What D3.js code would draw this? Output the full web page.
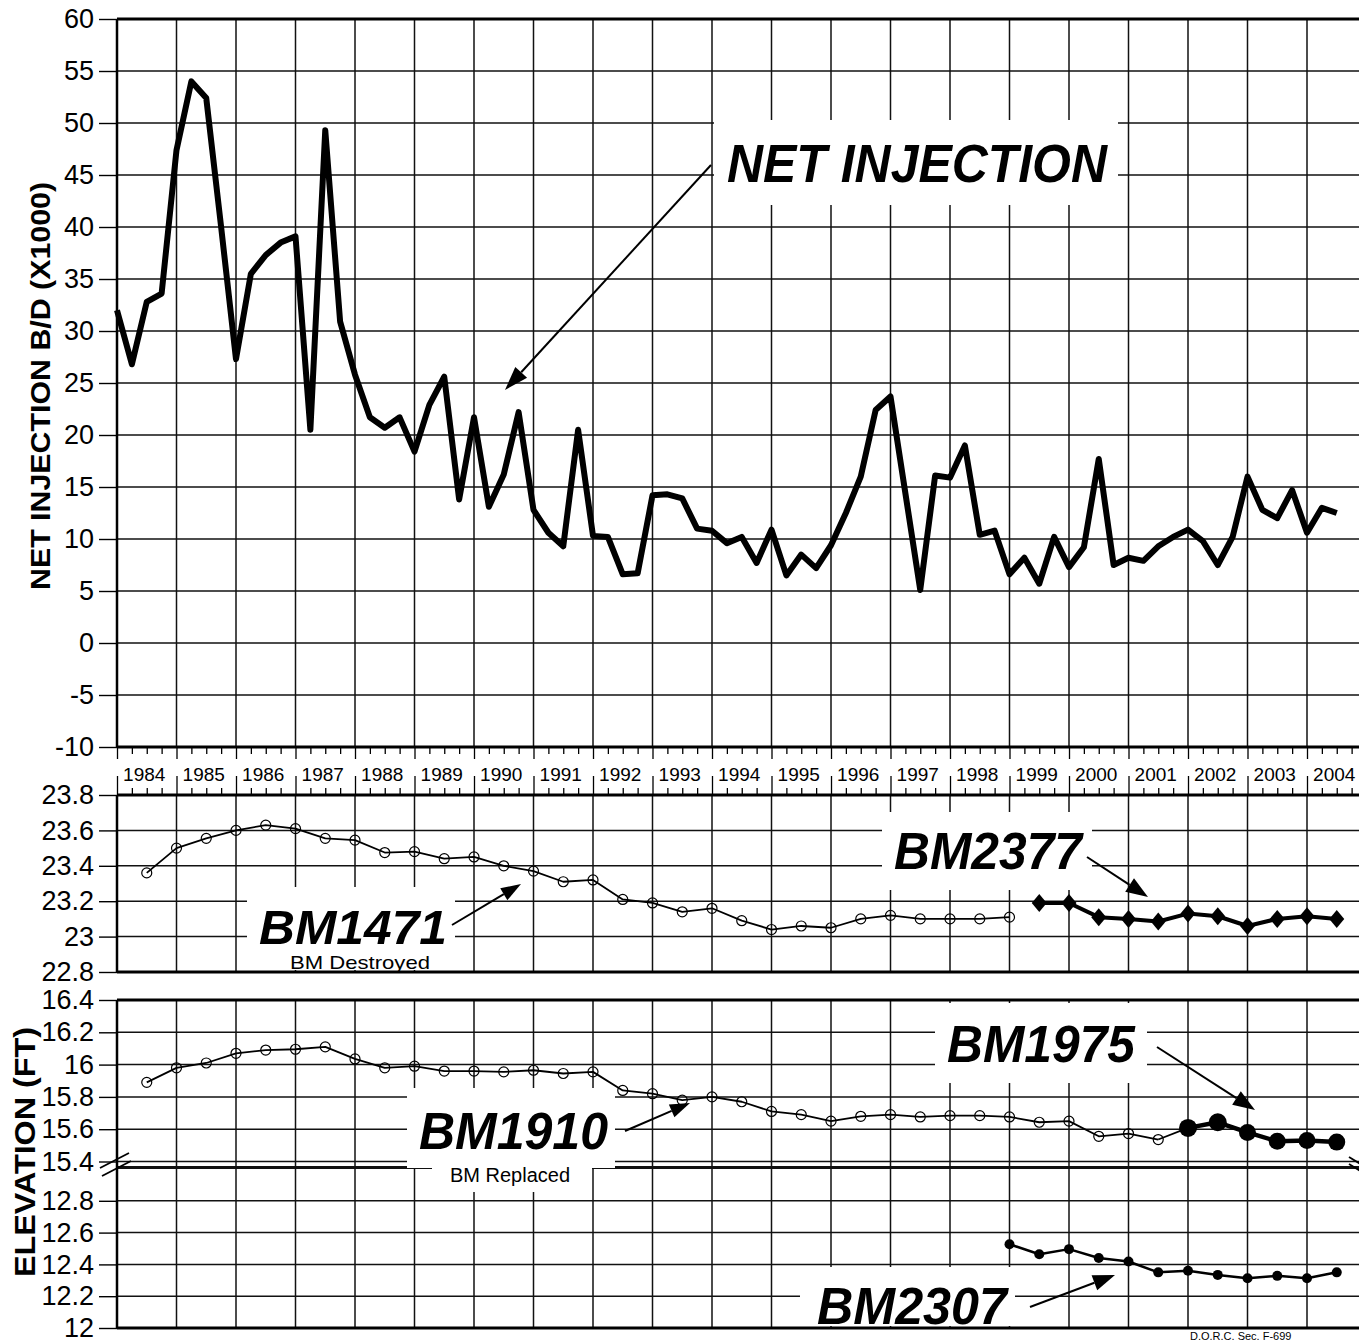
<!DOCTYPE html>
<html><head><meta charset="utf-8">
<script src="https://cdn.jsdelivr.net/npm/d3@7"></script>
<style>
body{margin:0;background:#fff}
svg{display:block}
text{font-family:"Liberation Sans",Arial,Helvetica,sans-serif;fill:#000}
</style>
</head><body>
<svg id="c" width="1359" height="1342"></svg>
<script>
// ---------------- DATA ----------------
const yearLabels = ["1984","1985","1986","1987","1988","1989","1990","1991","1992","1993","1994",
  "1995","1996","1997","1998","1999","2000","2001","2002","2003","2004"];
// Net injection, quarterly from 1984 Q1 (B/D x1000)
const netInjection = [32.0,26.8,32.8,33.6,47.4,54.0,52.4,40.0,27.3,35.5,37.3,38.5,39.1,20.5,49.3,30.9,
  25.8,21.7,20.7,21.7,18.4,22.9,25.6,13.8,21.7,13.1,16.2,22.2,12.8,10.6,9.3,20.5,
  10.3,10.2,6.6,6.7,14.2,14.3,13.9,11.0,10.8,9.6,10.2,7.7,10.9,6.5,8.5,7.2,
  9.4,12.5,16.0,22.4,23.7,14.4,5.1,16.1,15.9,19.0,10.4,10.8,6.6,8.2,5.7,10.2,
  7.3,9.2,17.7,7.5,8.2,7.9,9.3,10.2,10.9,9.8,7.5,10.2,16.0,12.8,12.0,14.7,10.6,13.0,12.5];
const netTicks = [-10,-5,0,5,10,15,20,25,30,35,40,45,50,55,60];

const bm1471Dates = [1984.5,1985,1985.5,1986,1986.5,1987,1987.5,1988,1988.5,1989,1989.5,1990,1990.5,1991,1991.5,
  1992,1992.5,1993,1993.5,1994,1994.5,1995,1995.5,1996,1996.5,1997,1997.5,1998,1998.5,1999];
const bm1471 = [23.36,23.50,23.555,23.60,23.63,23.61,23.555,23.545,23.475,23.48,23.44,23.45,23.40,23.37,23.31,
  23.32,23.21,23.19,23.14,23.16,23.09,23.04,23.06,23.05,23.10,23.12,23.10,23.10,23.10,23.11];
const bm2377Dates = [1999.5,2000,2000.5,2001,2001.5,2002,2002.5,2003,2003.5,2004,2004.5];
const bm2377 = [23.19,23.19,23.11,23.10,23.085,23.13,23.115,23.06,23.10,23.115,23.10];
const midTicks = [22.8,23,23.2,23.4,23.6,23.8];

const bm1910Dates = [1984.5,1985,1985.5,1986,1986.5,1987,1987.5,1988,1988.5,1989,1989.5,1990,1990.5,1991,1991.5,
  1992,1992.5,1993,1993.5,1994,1994.5,1995,1995.5,1996,1996.5,1997,1997.5,1998,1998.5,1999,1999.5,2000,2000.5,2001,2001.5];
const bm1910 = [15.89,15.98,16.01,16.07,16.09,16.095,16.11,16.035,15.98,15.99,15.96,15.96,15.955,15.965,15.945,
  15.955,15.84,15.82,15.78,15.80,15.77,15.71,15.69,15.65,15.68,15.69,15.676,15.684,15.684,15.676,15.643,15.65,15.556,15.573,15.536];
const bm1975Dates = [2002,2002.5,2003,2003.5,2004,2004.5];
const bm1975 = [15.608,15.643,15.58,15.525,15.53,15.52];
const upperTicks = [15.4,15.6,15.8,16,16.2,16.4];

const bm2307Dates = [1999,1999.5,2000,2000.5,2001,2001.5,2002,2002.5,2003,2003.5,2004,2004.5];
const bm2307 = [12.527,12.464,12.496,12.44,12.418,12.35,12.36,12.334,12.313,12.328,12.313,12.35];
const lowerTicks = [12,12.2,12.4,12.6,12.8];

// ---------------- LAYOUT ----------------
const svg = d3.select("#c");
const X0 = 117, XR = 1359;
const x = d3.scaleLinear().domain([1984, 2005]).range([117, 1366.5]);
const yTop = d3.scaleLinear().domain([-10, 60]).range([747, 19]);
const yMid = d3.scaleLinear().domain([22.8, 23.8]).range([972, 795]);
const yUp = d3.scaleLinear().domain([15.4, 16.4]).range([1161.5, 1000]);
const yLow = d3.scaleLinear().domain([12, 13]).range([1328, 1169]);

const gGrid = svg.append("g").attr("stroke", "#111").attr("stroke-width", 1.5);
const boundaries = d3.range(1985, 2005);
function vgrid(y1, y2) {
  gGrid.selectAll(null).data(boundaries).join("line")
    .attr("x1", d => x(d)).attr("x2", d => x(d)).attr("y1", y1).attr("y2", y2);
}
function hgrid(vals, scale) {
  gGrid.selectAll(null).data(vals).join("line")
    .attr("x1", X0).attr("x2", XR).attr("y1", d => scale(d)).attr("y2", d => scale(d));
}
vgrid(19, 747); vgrid(795, 972); vgrid(1000, 1328);
hgrid(netTicks.slice(1, -1), yTop);
hgrid(midTicks.slice(1, -1), yMid);
hgrid(upperTicks.slice(1, -1), yUp);
hgrid(lowerTicks.slice(1), yLow);
// break lines
gGrid.append("line").attr("x1", X0).attr("x2", XR).attr("y1", yUp(15.4)).attr("y2", yUp(15.4)).attr("stroke-width", 1.5);
gGrid.append("line").attr("x1", X0).attr("x2", XR).attr("y1", 1167.5).attr("y2", 1167.5).attr("stroke-width", 3);

// white label boxes (cut the grid)
const boxes = [[714,120,404,85],[882,812,210,78],[247,887,208,83],[935,1003,212,80],[407,1088,208,80],[432,1160,160,32],[800,1267,215,59]];
svg.append("g").selectAll("rect").data(boxes).join("rect")
  .attr("x", d => d[0]).attr("y", d => d[1]).attr("width", d => d[2]).attr("height", d => d[3]).attr("fill", "#fff");

// panel borders
const gB = svg.append("g").attr("stroke", "#000");
[[19,3],[747,3],[795,3],[972,3],[1000,3],[1328,3]].forEach(([y, w]) =>
  gB.append("line").attr("x1", X0).attr("x2", XR).attr("y1", y).attr("y2", y).attr("stroke-width", w));
[[19,747],[795,972],[1000,1328]].forEach(([a, b]) =>
  gB.append("line").attr("x1", X0).attr("x2", X0).attr("y1", a).attr("y2", b).attr("stroke-width", 2.5));

// y axes
function yAxis(scale, ticks, minor, fs) {
  const g = svg.append("g").attr("transform", `translate(${X0},0)`);
  g.call(d3.axisLeft(scale).tickValues(minor).tickSize(8).tickFormat(""));
  g.call(d3.axisLeft(scale).tickValues(ticks).tickSize(18).tickPadding(5).tickFormat(d => String(d)));
  g.selectAll(".domain").remove();
  g.selectAll("line").attr("stroke", "#000").attr("stroke-width", 1.4);
  g.selectAll("text").attr("font-size", fs).attr("fill", "#000")
    .style("font-family", '"Liberation Sans",Arial,sans-serif');
  return g;
}
yAxis(yTop, netTicks, d3.range(-10, 60).filter(v => v % 5 !== 0), 27);
yAxis(yMid, midTicks, d3.range(0, 20).filter(i => i % 4).map(i => 22.8 + i * 0.05), 27);
yAxis(yUp, upperTicks, d3.range(0, 20).filter(i => i % 4).map(i => 15.4 + i * 0.05), 27);
yAxis(yLow, lowerTicks, d3.range(0, 20).filter(i => i % 4).map(i => 12 + i * 0.05), 27);

// year strip
const quarters = d3.range(0, 84).filter(i => i % 4).map(i => 1984 + i / 4);
const yrB = d3.range(1984, 2006);
const strip = svg.append("g");
strip.append("g").attr("transform", "translate(0,747)").call(d3.axisBottom(x).tickValues(yrB).tickSize(12).tickFormat(""));
strip.append("g").attr("transform", "translate(0,747)").call(d3.axisBottom(x).tickValues(quarters).tickSize(7).tickFormat(""));
strip.append("g").attr("transform", "translate(0,795)").call(d3.axisTop(x).tickValues(yrB).tickSize(19).tickFormat(""));
strip.append("g").attr("transform", "translate(0,795)").call(d3.axisTop(x).tickValues(quarters).tickSize(7).tickFormat(""));
strip.selectAll(".domain").remove();
strip.selectAll("line").attr("stroke", "#000").attr("stroke-width", 1.3);
const lab = svg.append("g").attr("transform", "translate(0,747)")
  .call(d3.axisBottom(x).tickValues(d3.range(1984, 2005).map(v => v + 0.5)).tickSize(0).tickPadding(0)
    .tickFormat((d, i) => yearLabels[i]));
lab.select(".domain").remove();
lab.selectAll("text").attr("font-size", 19).attr("dy", 0).attr("y", 34).attr("dx", -3)
  .style("font-family", '"Liberation Sans",Arial,sans-serif');

// break marks
const gk = svg.append("g").attr("stroke", "#000").attr("stroke-width", 1.8);
gk.append("line").attr("x1", 100).attr("y1", 1168).attr("x2", 129).attr("y2", 1153);
gk.append("line").attr("x1", 102).attr("y1", 1176).attr("x2", 131).attr("y2", 1161);
gk.append("line").attr("x1", 1349).attr("y1", 1157).attr("x2", 1362).attr("y2", 1165);
gk.append("line").attr("x1", 1349).attr("y1", 1164).attr("x2", 1362).attr("y2", 1172);

// ---------------- DATA MARKS ----------------
svg.append("path").datum(netInjection)
  .attr("d", d3.line().x((d, i) => x(1984 + i / 4)).y(d => yTop(d)))
  .attr("fill", "none").attr("stroke", "#000").attr("stroke-width", 6).attr("stroke-linejoin", "round");

function series(dates, vals, scale, lw) {
  const pts = dates.map((d, i) => [x(d), scale(vals[i])]);
  svg.append("path").datum(pts).attr("d", d3.line())
    .attr("fill", "none").attr("stroke", "#000").attr("stroke-width", lw).attr("stroke-linejoin", "round");
  return pts;
}
const p1471 = series(bm1471Dates, bm1471, yMid, 1.8);
const p2377 = series(bm2377Dates, bm2377, yMid, 4);
const p1910 = series(bm1910Dates, bm1910, yUp, 1.8);
const p1975 = series(bm1975Dates, bm1975, yUp, 4.5);
const p2307 = series(bm2307Dates, bm2307, yLow, 2.5);
// connector BM1910 -> BM1975
svg.append("path").datum([p1910[p1910.length - 1], p1975[0]]).attr("d", d3.line())
  .attr("stroke", "#000").attr("stroke-width", 1.8).attr("fill", "none");

function openCircles(pts) {
  svg.append("g").selectAll("circle").data(pts).join("circle")
    .attr("cx", d => d[0]).attr("cy", d => d[1]).attr("r", 5)
    .attr("fill", "none").attr("stroke", "#000").attr("stroke-width", 1.2);
}
openCircles(p1471); openCircles(p1910);
svg.append("g").selectAll("path").data(p2377).join("path")
  .attr("d", d => `M${d[0]},${d[1] - 9}L${d[0] + 7.5},${d[1]}L${d[0]},${d[1] + 9}L${d[0] - 7.5},${d[1]}Z`)
  .attr("fill", "#000");
svg.append("g").selectAll("circle").data(p1975).join("circle")
  .attr("cx", d => d[0]).attr("cy", d => d[1]).attr("r", (d, i) => i < 2 ? 9 : 8.5).attr("fill", "#000");
svg.append("g").selectAll("circle").data(p2307).join("circle")
  .attr("cx", d => d[0]).attr("cy", d => d[1]).attr("r", 5).attr("fill", "#000");

// ---------------- ANNOTATIONS ----------------
function arrow(x1, y1, x2, y2, len, hw) {
  const a = Math.atan2(y2 - y1, x2 - x1);
  const bx = x2 - len * Math.cos(a), by = y2 - len * Math.sin(a);
  svg.append("line").attr("x1", x1).attr("y1", y1).attr("x2", bx).attr("y2", by)
    .attr("stroke", "#000").attr("stroke-width", 2);
  const px = -Math.sin(a) * hw, py = Math.cos(a) * hw;
  svg.append("path").attr("d", `M${x2},${y2}L${bx + px},${by + py}L${bx - px},${by - py}Z`).attr("fill", "#000");
}
arrow(711, 165, 505, 390, 24, 8);
arrow(452, 925, 521, 884, 20, 7);
arrow(1087, 857, 1148, 897, 22, 8);
arrow(1157, 1047, 1255, 1110, 22, 8);
arrow(625, 1131, 690, 1103, 20, 7);
arrow(1030, 1307, 1115, 1275, 22, 8);

function bigText(t, x0, yb, w, fs) {
  svg.append("text").attr("x", x0).attr("y", yb).text(t)
    .attr("font-size", fs).attr("font-weight", "bold").attr("font-style", "italic")
    .attr("textLength", w).attr("lengthAdjust", "spacingAndGlyphs");
}
bigText("NET INJECTION", 727, 182, 380, 53);
bigText("BM2377", 894, 869, 188, 52);
bigText("BM1471", 259, 944, 188, 48);
bigText("BM1975", 947, 1062, 188, 52);
bigText("BM1910", 419, 1149, 189, 52);
bigText("BM2307", 817, 1324, 190, 52);
svg.append("text").attr("x", 360).attr("y", 969).attr("text-anchor", "middle").attr("font-size", 19)
  .attr("textLength", 140).attr("lengthAdjust", "spacingAndGlyphs").text("BM Destroyed");
svg.append("text").attr("x", 510).attr("y", 1182).attr("text-anchor", "middle").attr("font-size", 20).text("BM Replaced");

// axis titles
svg.append("text").attr("transform", "translate(50,386) rotate(-90)").attr("text-anchor", "middle")
  .attr("font-size", 27).attr("font-weight", "bold").attr("textLength", 408).attr("lengthAdjust", "spacingAndGlyphs")
  .text("NET INJECTION B/D (X1000)");
svg.append("text").attr("transform", "translate(35,1152) rotate(-90)").attr("text-anchor", "middle")
  .attr("font-size", 29).attr("font-weight", "bold").attr("textLength", 250).attr("lengthAdjust", "spacingAndGlyphs")
  .text("ELEVATION (FT)");

svg.append("text").attr("x", 1190).attr("y", 1340).attr("font-size", 11).text("D.O.R.C. Sec. F-699");
</script>
</body></html>
